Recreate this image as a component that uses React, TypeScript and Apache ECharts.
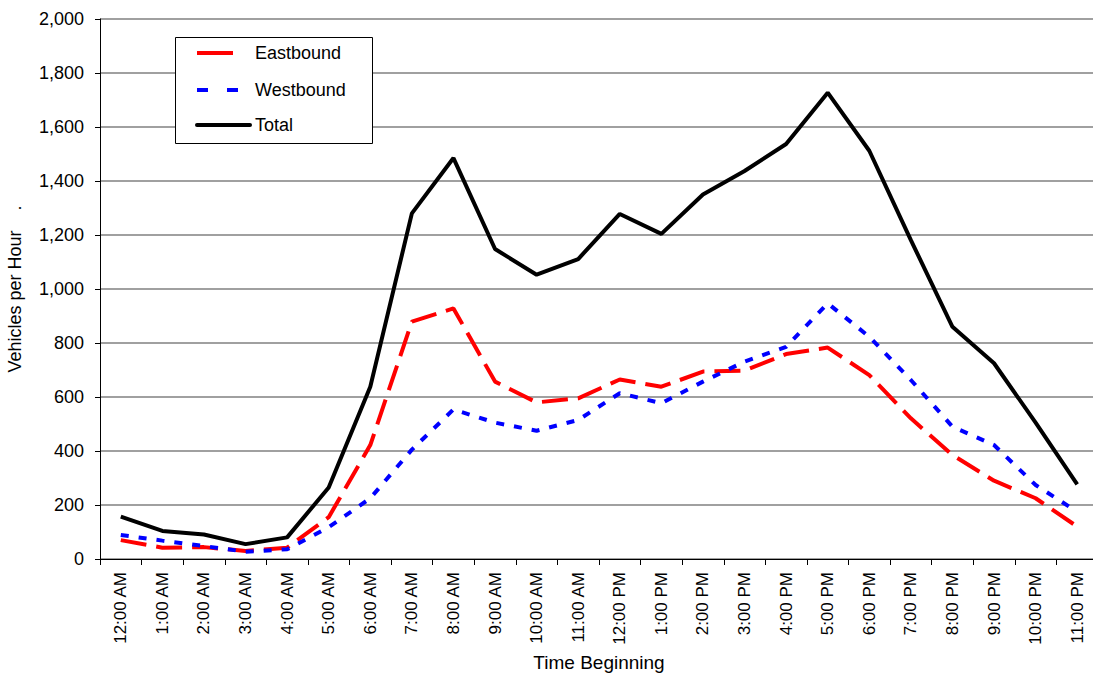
import React, { useEffect, useRef } from "react";
import * as echarts from "echarts";

const categories = [
  "12:00 AM", "1:00 AM", "2:00 AM", "3:00 AM", "4:00 AM", "5:00 AM",
  "6:00 AM", "7:00 AM", "8:00 AM", "9:00 AM", "10:00 AM", "11:00 AM",
  "12:00 PM", "1:00 PM", "2:00 PM", "3:00 PM", "4:00 PM", "5:00 PM",
  "6:00 PM", "7:00 PM", "8:00 PM", "9:00 PM", "10:00 PM", "11:00 PM",
];

const seriesNames = ["Eastbound", "Westbound", "Total"];
const eastbound = [70, 42, 44, 30, 42, 155, 422, 879, 928, 657, 580, 595, 665, 638, 694, 698, 759, 783, 681, 521, 385, 290, 225, 120];
const westbound = [89, 68, 48, 27, 36, 118, 225, 405, 554, 505, 475, 515, 614, 577, 657, 731, 786, 947, 823, 663, 490, 422, 274, 175];
const total = [157, 104, 91, 55, 80, 265, 638, 1280, 1485, 1148, 1053, 1111, 1278, 1204, 1350, 1437, 1537, 1727, 1512, 1181, 860, 725, 505, 276];

const FONT = "'Liberation Sans', Arial, sans-serif";

export default function App() {
  const ref = useRef<HTMLDivElement>(null);
  useEffect(() => {
    if (!ref.current) return;
    const chart = echarts.init(ref.current, null, { renderer: "svg" });
    const legendText = (text: string, y: number) => ({
      type: "text",
      left: 255,
      top: y - 10,
      z: 101,
      style: { text, fontSize: 18, fill: "#000", fontFamily: FONT },
    });
    chart.setOption({
      animation: false,
      backgroundColor: "#ffffff",
      textStyle: { fontFamily: FONT },
      grid: {
        left: 100,
        top: 19,
        width: 998,
        height: 540,
        outerBoundsMode: "none",
        containLabel: false,
      },
      graphic: [
        {
          type: "rect",
          left: 175,
          top: 37,
          z: 100,
          shape: { width: 197, height: 106 },
          style: { fill: "#fff", stroke: "#000", lineWidth: 1 },
        },
        {
          type: "line",
          z: 101,
          shape: { x1: 197, y1: 53, x2: 233, y2: 53 },
          style: { stroke: "#ff0000", lineWidth: 4 },
        },
        {
          type: "line",
          z: 101,
          shape: { x1: 197, y1: 90, x2: 238, y2: 90 },
          style: { stroke: "#0000ff", lineWidth: 4, lineDash: [11, 19] },
        },
        {
          type: "line",
          z: 101,
          shape: { x1: 197, y1: 125, x2: 250, y2: 125 },
          style: { stroke: "#000", lineWidth: 4, lineCap: "round" },
        },
        legendText(seriesNames[0], 54),
        legendText(seriesNames[1], 91),
        legendText(seriesNames[2], 126),
      ],
      xAxis: {
        type: "category",
        data: categories,
        boundaryGap: true,
        name: "Time Beginning",
        nameLocation: "middle",
        nameGap: 94,
        nameTextStyle: { fontSize: 19, color: "#000", fontFamily: FONT },
        axisLine: { lineStyle: { color: "#000", width: 1 } },
        axisTick: { show: true, length: 6, lineStyle: { color: "#000" }, alignWithLabel: false },
        axisLabel: { rotate: 90, fontSize: 17, color: "#000", margin: 13, interval: 0, fontFamily: FONT },
        splitLine: { show: false },
      },
      yAxis: {
        type: "value",
        min: 0,
        max: 2000,
        interval: 200,
        name: "Vehicles per Hour    .",
        nameLocation: "middle",
        nameGap: 76,
        nameRotate: 90,
        nameTextStyle: { fontSize: 18, color: "#000", fontFamily: FONT },
        axisLine: { show: true, lineStyle: { color: "#000", width: 1 } },
        axisTick: { show: true, length: 5, lineStyle: { color: "#000" } },
        axisLabel: { fontSize: 18, color: "#000", margin: 16, fontFamily: FONT },
        splitLine: { show: true, lineStyle: { color: "#808080", width: 1.5 } },
      },
      series: [
        {
          name: seriesNames[0],
          type: "line",
          data: eastbound,
          symbol: "none",
          lineStyle: { color: "#ff0000", width: 4, type: [26, 10] },
          itemStyle: { color: "#ff0000" },
        },
        {
          name: seriesNames[1],
          type: "line",
          data: westbound,
          symbol: "none",
          lineStyle: { color: "#0000ff", width: 4, type: [8, 10] },
          itemStyle: { color: "#0000ff" },
        },
        {
          name: seriesNames[2],
          type: "line",
          data: total,
          symbol: "none",
          lineStyle: { color: "#000000", width: 4 },
          itemStyle: { color: "#000000" },
        },
      ],
    });
    return () => chart.dispose();
  }, []);
  return (
    <div
      ref={ref}
      style={{ position: "fixed", left: 0, top: 0, width: 1093, height: 673, background: "#fff" }}
    />
  );
}
